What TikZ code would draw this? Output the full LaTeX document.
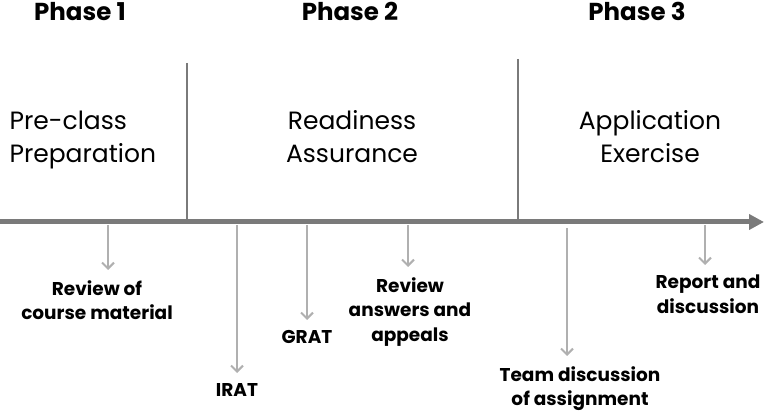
\documentclass[tikz,border=0pt]{standalone}
\usepackage{fontspec}
\setmainfont{Poppins}
\usetikzlibrary{arrows.meta}
\definecolor{axisgray}{HTML}{7A7A7A}
\definecolor{stepgray}{HTML}{B0B0B0}
\begin{document}
\begin{tikzpicture}
[x=1pt, y=-1pt,
 phase/.style={anchor=base, font=\fontsize{24.5}{28}\selectfont\bfseries},
 stage/.style={anchor=north, align=center, font=\fontsize{25}{33}\selectfont},
 task/.style={anchor=north, align=center, inner sep=0pt, font=\fontsize{18.5}{24.5}\selectfont\bfseries},
 timeline/.style={draw=axisgray, line width=5pt, -{Triangle[length=15pt,width=15pt]}},
 divider/.style={draw=axisgray, line width=2.5pt},
 taskarrow/.style={draw=stepgray, line width=2pt, -{Straight Barb[length=6pt,width=12pt,line width=2pt]}, shorten >=10pt}]
\useasboundingbox (0,0) rectangle (768,411);
% timeline and phase borders
\coordinate (start) at (0,222);
\coordinate (end) at (764,222);
\draw [timeline] (start) -- (end);
\draw [divider] (187,63) coordinate (top1) -- (187,222) coordinate (bot1);
\draw [divider] (518,59) coordinate (top2) -- (518,222) coordinate (bot2);
% phases
\node [phase] (ph1) at (80,21) {Phase 1};
\node [phase] (ph2) at (350,21) {Phase 2};
\node [phase] (ph3) at (637,21) {Phase 3};
\node [stage, anchor=north west, align=left] (prep) at (6,107) {Pre-class\\Preparation};
\node [stage] (ready) at (352,107) {Readiness\\Assurance};
\node [stage] (appl) at (650,107) {Application\\Exercise};
% tasks under the timeline
\node [task] (review) at (97,280) {Review of\\course material};
\node [task] (irat) at (237,383) {IRAT};
\node [task] (grat) at (307,330) {GRAT};
\node [task] (appeal) at (410,277) {Review\\answers and\\appeals};
\node [task] (team) at (580,366) {Team discussion\\of assignment};
\node [task] (report) at (708,275) {Report and\\discussion};
\draw [taskarrow] (108,225) -- (108,280);
\draw [taskarrow] (237,225) -- (irat.north);
\draw [taskarrow] (307,225) -- (grat.north);
\draw [taskarrow] (408,225) -- (408,277);
\draw [taskarrow] (567,228) -- (567,366);
\draw [taskarrow] (705,225) -- (705,275);
\end{tikzpicture}
\end{document}
